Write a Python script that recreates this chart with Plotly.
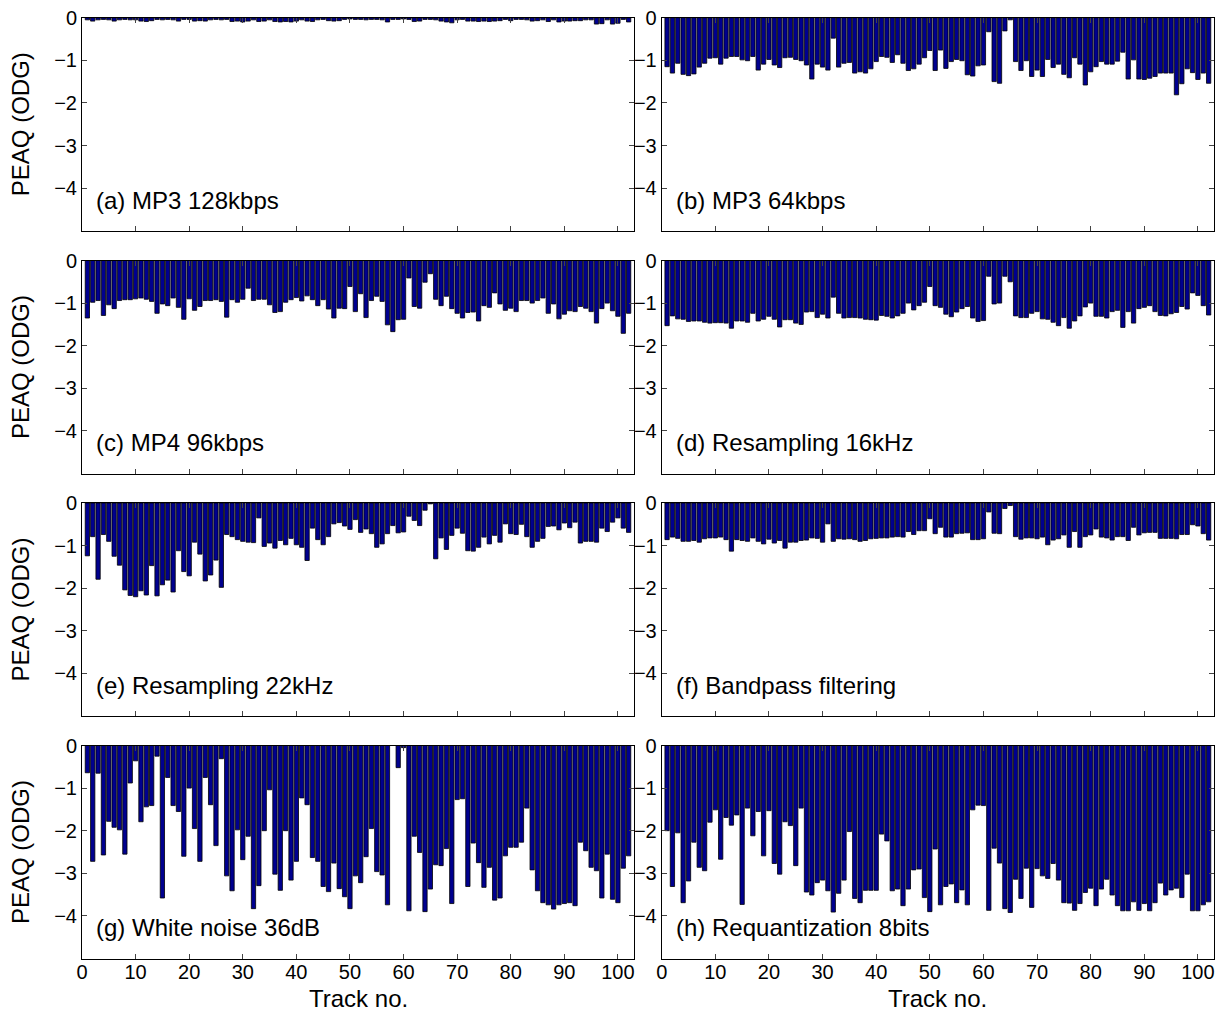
import plotly.graph_objects as go

tracks = list(range(1, 103))

mp3_128 = [-0.05,-0.08,-0.05,-0.04,-0.05,-0.08,-0.05,-0.04,-0.05,-0.05,
           -0.08,-0.09,-0.07,-0.04,-0.05,-0.04,-0.05,-0.08,-0.04,-0.04,
           -0.08,-0.07,-0.08,-0.05,-0.04,-0.05,-0.04,-0.09,-0.08,-0.10,
           -0.08,-0.05,-0.09,-0.08,-0.05,-0.09,-0.10,-0.09,-0.10,-0.08,
           -0.05,-0.08,-0.09,-0.05,-0.04,-0.07,-0.08,-0.07,-0.04,-0.03,
           -0.04,-0.04,-0.05,-0.04,-0.04,-0.05,-0.10,-0.04,-0.04,-0.03,
           -0.04,-0.09,-0.08,-0.04,-0.04,-0.05,-0.08,-0.10,-0.12,-0.05,
           -0.04,-0.08,-0.08,-0.09,-0.08,-0.09,-0.08,-0.07,-0.04,-0.07,
           -0.04,-0.04,-0.05,-0.08,-0.07,-0.05,-0.09,-0.05,-0.10,-0.08,
           -0.08,-0.07,-0.07,-0.05,-0.05,-0.15,-0.14,-0.05,-0.15,-0.13,
           -0.04,-0.10]

mp3_64 = [-1.15,-1.30,-1.07,-1.33,-1.36,-1.32,-1.16,-1.07,-0.95,-0.94,
          -1.09,-0.95,-0.91,-0.91,-0.99,-1.01,-0.91,-1.23,-1.09,-0.98,
          -1.11,-1.17,-0.94,-0.93,-0.98,-1.01,-1.11,-1.44,-1.09,-1.16,
          -1.23,-0.48,-1.16,-1.07,-1.05,-1.30,-1.27,-1.30,-1.20,-1.03,
          -0.91,-0.93,-1.05,-0.87,-1.07,-1.24,-1.20,-1.09,-0.94,-0.77,
          -1.24,-0.76,-1.19,-1.03,-0.98,-1.01,-1.34,-1.37,-1.13,-1.11,
          -0.33,-1.50,-1.54,-0.31,-0.05,-1.03,-1.24,-1.01,-1.38,-1.23,
          -1.38,-0.98,-1.17,-1.09,-1.33,-1.41,-0.94,-1.09,-1.58,-1.27,
          -1.15,-1.03,-1.09,-1.09,-1.02,-0.81,-1.44,-0.99,-1.44,-1.45,
          -1.42,-1.38,-1.30,-1.30,-1.30,-1.81,-1.55,-1.20,-1.29,-1.45,
          -1.30,-1.54]

mp4_96 = [-1.35,-0.98,-0.94,-1.29,-1.04,-1.13,-0.94,-0.92,-0.92,-0.90,
          -0.88,-0.91,-0.96,-1.24,-1.02,-1.06,-0.88,-1.10,-1.38,-0.90,
          -1.17,-1.08,-0.94,-0.94,-0.92,-0.96,-1.33,-0.92,-0.98,-0.91,
          -0.65,-0.94,-0.91,-0.91,-1.04,-1.22,-1.20,-0.98,-0.92,-0.87,
          -0.95,
          -0.83,-0.92,-1.06,-0.92,-1.14,-1.35,-1.12,-1.13,-0.61,-1.20,
          -0.78,-1.34,-0.94,-0.84,-0.96,-1.51,-1.67,-1.39,-1.38,-0.41,
          -1.08,-1.12,-0.51,-0.31,-0.91,-1.06,-0.84,-1.13,-1.24,-1.35,
          -1.22,-1.21,-1.42,-1.06,-1.10,-0.76,-1.02,-1.17,-1.12,-1.20,
          -0.94,-0.94,-1.00,-0.94,-0.88,-1.24,-1.02,-1.37,-1.26,-1.18,
          -1.20,-1.08,-1.12,-1.20,-1.47,-1.13,-1.00,-1.18,-1.31,-1.71,-1.24]

resamp_16 = [-1.53,-1.30,-1.37,-1.38,-1.43,-1.42,-1.42,-1.45,-1.47,-1.46,
             -1.46,-1.47,-1.59,-1.42,-1.42,-1.45,-1.24,-1.42,-1.38,-1.31,
             -1.38,
             -1.56,-1.39,-1.39,-1.47,-1.50,-1.21,-1.20,-1.34,-1.26,-1.35,
             -0.86,-1.24,-1.35,-1.34,-1.34,-1.35,-1.38,-1.39,-1.40,-1.29,
             -1.31,-1.35,-1.30,-1.24,-1.00,-1.16,-1.06,-0.98,-0.61,-1.06,
             -1.10,-1.26,-1.32,-1.21,-1.13,-1.08,-1.35,-1.43,-1.41,-0.37,
             -1.02,-1.00,-0.37,-0.50,-1.30,-1.34,-1.34,-1.24,-1.20,-1.37,
             -1.38,-1.45,-1.53,-1.34,-1.59,-1.42,-1.30,-1.09,-1.00,-1.31,
             -1.31,-1.35,-1.20,-1.17,-1.57,-1.20,-1.47,-1.13,-1.10,-1.06,
             -1.20,-1.29,-1.30,-1.25,-1.22,-1.08,-1.14,-0.76,-0.82,-1.06,-1.28]

resamp_22 = [-1.24,-0.79,-1.79,-0.74,-0.90,-1.25,-1.46,-2.04,-2.17,-2.20,
             -2.06,-2.16,-1.47,-2.18,-1.92,-1.81,-2.09,-1.12,-1.61,-1.71,
             -0.92,-1.20,-1.83,-1.69,-1.34,-1.98,-0.74,-0.79,-0.86,-0.90,-0.92,
             -0.93,-0.35,-1.02,-0.94,-1.06,-0.88,-0.98,-0.83,-0.98,-1.04,
             -1.35,-0.59,-0.86,-0.98,-0.79,-0.49,-0.46,-0.54,-0.62,-0.39,
             -0.69,-0.61,-0.72,-1.04,-0.96,-0.72,-0.53,-0.70,-0.68,-0.31,
             -0.41,-0.53,-0.17,-0.02,-1.31,-0.82,-1.09,-0.76,-0.59,-0.71,
             -1.12,-1.13,-1.04,-0.80,-0.96,-0.76,-0.92,-0.49,-0.72,-0.74,
             -0.50,-0.79,-1.04,-0.90,-0.83,-0.55,-0.54,-0.63,-0.47,-0.58,
             -0.45,-0.94,-0.90,-0.90,-0.92,-0.59,-0.67,-0.45,-0.35,-0.59,-0.69]

bandpass = [-0.86,-0.80,-0.83,-0.90,-0.90,-0.88,-0.92,-0.84,-0.82,-0.82,
            -0.80,-0.86,-1.13,
            -0.86,-0.88,-0.90,-0.82,-0.90,-0.96,-0.85,-0.94,-0.88,-1.06,
            -0.92,-0.92,-0.88,-0.87,-0.82,-0.83,-0.92,
            -0.49,
            -0.90,-0.84,-0.85,-0.84,-0.86,-0.90,-0.88,-0.84,-0.83,-0.82,
            -0.82,-0.80,-0.79,-0.80,-0.67,-0.74,-0.65,-0.65,
            -0.37,
            -0.72,-0.57,-0.80,-0.80,-0.72,-0.71,-0.70,-0.86,-0.86,-0.84,
            -0.21,-0.71,-0.72,-0.13,-0.06,
            -0.79,-0.85,-0.82,-0.82,-0.84,-0.80,-0.98,-0.87,-0.84,-0.75,
            -1.04,-0.67,-1.04,-0.79,-0.75,-0.61,-0.80,-0.82,-0.87,-0.79,
            -0.79,-0.88,-0.57,-0.75,-0.70,-0.69,-0.69,-0.83,-0.83,-0.83,
            -0.84,-0.74,-0.74,-0.51,-0.54,-0.72,-0.87]

white_noise = [-0.64,-2.72,-0.65,-2.57,-1.78,-1.92,-1.98,-2.55,-0.88,-0.36,
               -1.79,-1.44,-1.41,-0.25,-3.58,-0.75,-1.41,-1.55,-2.60,-1.00,
               -1.95,-2.72,-0.75,-1.39,-2.35,-0.31,-3.06,-3.41,-1.98,-2.68,
               -2.13,-3.83,-3.29,-2.00,-1.04,-3.02,-3.40,-2.00,-3.16,-2.72,
               -1.23,-1.39,-2.63,-2.72,-3.31,-3.43,-2.76,-3.36,-3.55,-3.83,
               -3.06,-3.22,-2.61,-1.95,-2.96,-3.04,-3.74,0.0,-0.52,-0.05,
               -3.88,-2.13,-2.51,-3.90,-3.37,-2.80,-2.82,-2.42,-3.71,-1.27,
               -1.25,-3.31,-2.29,-2.75,-3.33,-2.86,-3.63,-3.58,-2.59,-2.39,
               -2.39,-2.27,-1.47,-2.92,-3.41,-3.69,-3.74,-3.84,-3.74,-3.71,
               -3.69,-3.76,-2.27,-2.47,-2.86,-2.94,-3.58,-2.55,-3.61,-3.69,
               -2.88,-2.59]

requant = [-2.00,-3.31,-2.05,-3.69,-3.18,-2.27,-2.86,-2.94,-1.80,-1.51,
           -2.67,-1.69,-1.87,-1.63,-3.73,-1.47,-2.12,-1.55,-2.59,-1.53,
           -2.77,-3.02,-1.79,-1.88,-2.82,-1.47,-3.44,-3.51,-3.22,-3.16,
           -3.41,-3.91,-3.47,-3.16,-2.02,-3.59,-3.69,-3.40,-3.40,-3.40,
           -2.08,-2.24,-3.41,-3.37,-3.76,-3.37,-2.92,-2.90,-3.57,-3.90,
           -2.43,-3.74,-3.31,-3.25,-3.69,-3.39,-3.74,-1.51,-1.40,-1.41,
           -3.87,-2.41,-2.76,-3.83,-3.92,-3.14,-3.59,-2.88,-3.80,-2.89,
           -3.06,-3.12,-2.77,-3.16,-3.69,-3.70,-3.87,-3.71,-3.45,-3.35,
           -3.76,-3.37,-3.14,-3.51,-3.76,-3.88,-3.88,-3.67,-3.87,-3.71,
           -3.88,-3.69,-3.23,-3.51,-3.39,-3.35,-3.57,-3.02,-3.88,-3.88,
           -3.74,-3.67]

panel_labels = ["(a) MP3 128kbps", "(b) MP3 64kbps", "(c) MP4 96kbps",
                "(d) Resampling 16kHz", "(e) Resampling 22kHz",
                "(f) Bandpass filtering", "(g) White noise 36dB",
                "(h) Requantization 8bits"]
series = [mp3_128, mp3_64, mp4_96, resamp_16, resamp_22, bandpass,
          white_noise, requant]

x_ticks = [0, 10, 20, 30, 40, 50, 60, 70, 80, 90, 100]
y_ticks = [0, -1, -2, -3, -4]
y_title = "PEAQ (ODG)"
x_title = "Track no."

W, H = 1231, 1021
OFF = 8  # page body margin in the browser
col_px = [(82, 634), (661.7, 1214)]
row_px = [(17.7, 230.7), (260.5, 473.5), (503, 716), (745.5, 958.5)]


def px_x(p):
    return (p - OFF) / W


def px_y(p):
    return 1 - (p - OFF) / H


FONT = "Liberation Sans, Arial, Helvetica, sans-serif"
TICK = 20
LAB = 24
fig = go.Figure()
layout = dict(width=W, height=H, margin=dict(l=0, r=0, t=0, b=0, autoexpand=False),
              paper_bgcolor="white", plot_bgcolor="white", template="none",
              showlegend=False, font=dict(family=FONT, size=TICK, color="black"),
              annotations=[])

for k, (vals, lab) in enumerate(zip(series, panel_labels)):
    r, c = divmod(k, 2)
    n = k + 1
    xa = "xaxis" if n == 1 else f"xaxis{n}"
    ya = "yaxis" if n == 1 else f"yaxis{n}"
    xr = "x" if n == 1 else f"x{n}"
    yr = "y" if n == 1 else f"y{n}"
    fig.add_trace(go.Bar(x=tracks, y=vals, width=0.8, xaxis=xr, yaxis=yr,
                         marker=dict(color="#00008f",
                                     line=dict(color="black", width=0.8))))
    x0, x1 = col_px[c]
    y0, y1 = row_px[r]
    layout[xa] = dict(domain=[px_x(x0), px_x(x1)], range=[0, 103], anchor=yr,
                      tickvals=x_ticks, ticks="inside", ticklen=5,
                      automargin=False, ticklabelstandoff=-5,
                      ticklabeloverflow="allow",
                      showticklabels=(r == 3), showline=True, linecolor="black",
                      linewidth=1, mirror="ticks", showgrid=False,
                      zeroline=False, tickfont=dict(size=TICK, family=FONT))
    layout[ya] = dict(domain=[px_y(y1), px_y(y0)], range=[-5, 0], anchor=xr,
                      tickvals=y_ticks, ticks="inside", ticklen=5,
                      automargin=False, ticklabeloverflow="allow",
                      showticklabels=True, showline=True, linecolor="black",
                      linewidth=1, mirror="ticks", showgrid=False,
                      zeroline=False, tickfont=dict(size=TICK, family=FONT))
    layout["annotations"].append(dict(text=lab, x=2.2, y=-4.28, xref=xr, yref=yr,
                                      xanchor="left", yanchor="middle",
                                      showarrow=False,
                                      font=dict(size=LAB, family=FONT)))
    if c == 0:
        layout["annotations"].append(dict(text=y_title, x=px_x(20),
                                          y=px_y((y0 + y1) / 2),
                                          xref="paper", yref="paper",
                                          textangle=-90, showarrow=False,
                                          xanchor="center", yanchor="middle",
                                          font=dict(size=LAB, family=FONT)))
    if r == 3:
        layout["annotations"].append(dict(text=x_title, x=px_x((x0 + x1) / 2),
                                          y=px_y(998), xref="paper",
                                          yref="paper", showarrow=False,
                                          xanchor="center", yanchor="middle",
                                          font=dict(size=LAB, family=FONT)))

fig.update_layout(**layout)
fig.write_html("out.html")
